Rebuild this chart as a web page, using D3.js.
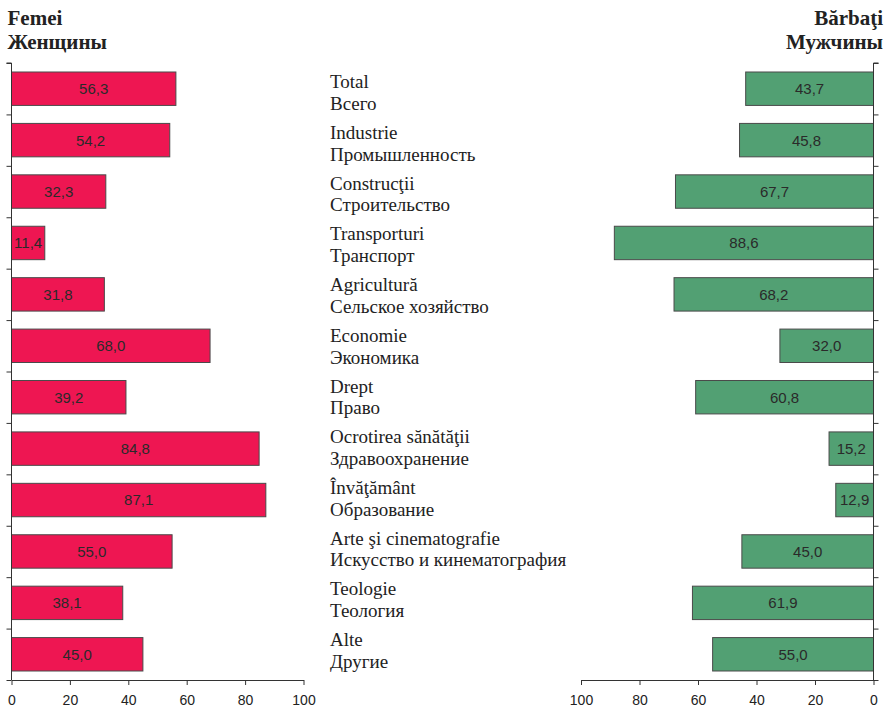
<!DOCTYPE html>
<html>
<head>
<meta charset="utf-8">
<script src="https://cdn.jsdelivr.net/npm/d3@7"></script>
<style>
  html, body { margin: 0; padding: 0; background: #fff; }
  svg { display: block; }
</style>
</head>
<body>
<svg id="chart" width="886" height="707"></svg>
<script>
const categoriesRo = ["Total", "Industrie", "Construcţii", "Transporturi", "Agricultură", "Economie", "Drept", "Ocrotirea sănătăţii", "Învăţământ", "Arte şi cinematografie", "Teologie", "Alte"];
const categoriesRu = ["Всего", "Промышленность", "Строительство", "Транспорт", "Сельское хозяйство", "Экономика", "Право", "Здравоохранение", "Образование", "Искусство и кинематография", "Теология", "Другие"];
const women = [56.3, 54.2, 32.3, 11.4, 31.8, 68.0, 39.2, 84.8, 87.1, 55.0, 38.1, 45.0];
const men = [43.7, 45.8, 67.7, 88.6, 68.2, 32.0, 60.8, 15.2, 12.9, 45.0, 61.9, 55.0];
const xTicks = [0, 20, 40, 60, 80, 100];
const headerLeft = ["Femei", "Женщины"];
const headerRight = ["Bărbaţi", "Мужчины"];

(function () {
const svg = d3.select("#chart");
const serif = "'Liberation Serif', 'Times New Roman', serif";
const sans = "'Liberation Sans', Arial, sans-serif";
const pink = "#EE1652";
const green = "#52A073";
const strokeC = "#4a4a4a";
const axisC = "#333";

const yTop = 63, yBottom = 680;
const idx = d3.range(categoriesRo.length);

const y = d3.scaleBand().domain(idx).range([yTop, yBottom]).paddingInner(0.35).paddingOuter(0.175);
const yBound = d3.scaleLinear().domain([0, idx.length]).range([yTop, yBottom]);
const yText = d3.scalePoint().domain(idx).range([88.3, 646]);

const xL = d3.scaleLinear().domain([0, 100]).range([11.5, 303.5]);
const xR = d3.scaleLinear().domain([100, 0]).range([581, 873.5]);

const fmt = v => d3.format(".1f")(v).replace(".", ",");

// Left bars
svg.append("g").selectAll("rect").data(idx).join("rect")
  .attr("x", xL(0))
  .attr("y", i => y(i))
  .attr("width", i => xL(women[i]) - xL(0))
  .attr("height", y.bandwidth())
  .attr("fill", pink).attr("stroke", strokeC).attr("stroke-width", 1);

svg.append("g").selectAll("text").data(idx).join("text")
  .attr("x", i => (xL(0) + xL(women[i])) / 2)
  .attr("y", i => y(i) + y.bandwidth() / 2)
  .attr("dy", "0.36em")
  .attr("text-anchor", "middle")
  .attr("font-family", sans).attr("font-size", 15).attr("fill", "#2a2a2a")
  .text(i => fmt(women[i]));

// Right bars
svg.append("g").selectAll("rect").data(idx).join("rect")
  .attr("x", i => xR(men[i]))
  .attr("y", i => y(i))
  .attr("width", i => xR(0) - xR(men[i]))
  .attr("height", y.bandwidth())
  .attr("fill", green).attr("stroke", strokeC).attr("stroke-width", 1);

svg.append("g").selectAll("text").data(idx).join("text")
  .attr("x", i => (xR(0) + xR(men[i])) / 2)
  .attr("y", i => y(i) + y.bandwidth() / 2)
  .attr("dy", "0.36em")
  .attr("text-anchor", "middle")
  .attr("font-family", sans).attr("font-size", 15).attr("fill", "#2a2a2a")
  .text(i => fmt(men[i]));

// Category labels
const lab = svg.append("g").selectAll("text").data(idx).join("text")
  .attr("font-family", serif).attr("font-size", 19).attr("fill", "#222");
lab.append("tspan").attr("x", 330).attr("y", i => yText(i)).text(i => categoriesRo[i]);
lab.append("tspan").attr("x", 330).attr("y", i => yText(i) + 21.7).text(i => categoriesRu[i]);

// Axes
const boundTicks = d3.range(idx.length + 1);
const yAxisL = d3.axisLeft(yBound).tickValues(boundTicks).tickSize(5).tickFormat("");
const yAxisR = d3.axisRight(yBound).tickValues(boundTicks).tickSize(5).tickFormat("");
const gyl = svg.append("g").attr("transform", `translate(${xL(0)},0)`).call(yAxisL);
const gyr = svg.append("g").attr("transform", `translate(${xR(0)},0)`).call(yAxisR);

const xAxisL = d3.axisBottom(xL).tickValues(xTicks).tickSize(5).tickPadding(10).tickSizeOuter(0);
const xAxisR = d3.axisBottom(xR).tickValues(xTicks).tickSize(5).tickPadding(10).tickSizeOuter(0);
const gxl = svg.append("g").attr("transform", `translate(0,${yBottom})`).call(xAxisL);
const gxr = svg.append("g").attr("transform", `translate(0,${yBottom})`).call(xAxisR);

[gyl, gyr, gxl, gxr].forEach(g => {
  g.selectAll("path").attr("stroke", axisC).attr("stroke-width", 1);
  g.selectAll("line").attr("stroke", axisC).attr("stroke-width", 1);
  g.selectAll("text").attr("font-family", sans).attr("font-size", 14).attr("fill", "#222");
});
gyl.select("path.domain").attr("d", `M-5,${yTop}H0V${yBottom}`);
gyr.select("path.domain").attr("d", `M5,${yTop}H0V${yBottom}`);

// Headers
const hl = svg.append("text").attr("font-family", serif).attr("font-size", 21).attr("font-weight", "bold").attr("fill", "#222");
headerLeft.forEach((t, k) => hl.append("tspan").attr("x", 7.5).attr("y", 25 + k * 24.3).text(t));
const hr = svg.append("text").attr("font-family", serif).attr("font-size", 21).attr("font-weight", "bold").attr("fill", "#222").attr("text-anchor", "end");
headerRight.forEach((t, k) => hr.append("tspan").attr("x", 883).attr("y", 25 + k * 24.3).text(t));
})();
</script>
</body>
</html>
